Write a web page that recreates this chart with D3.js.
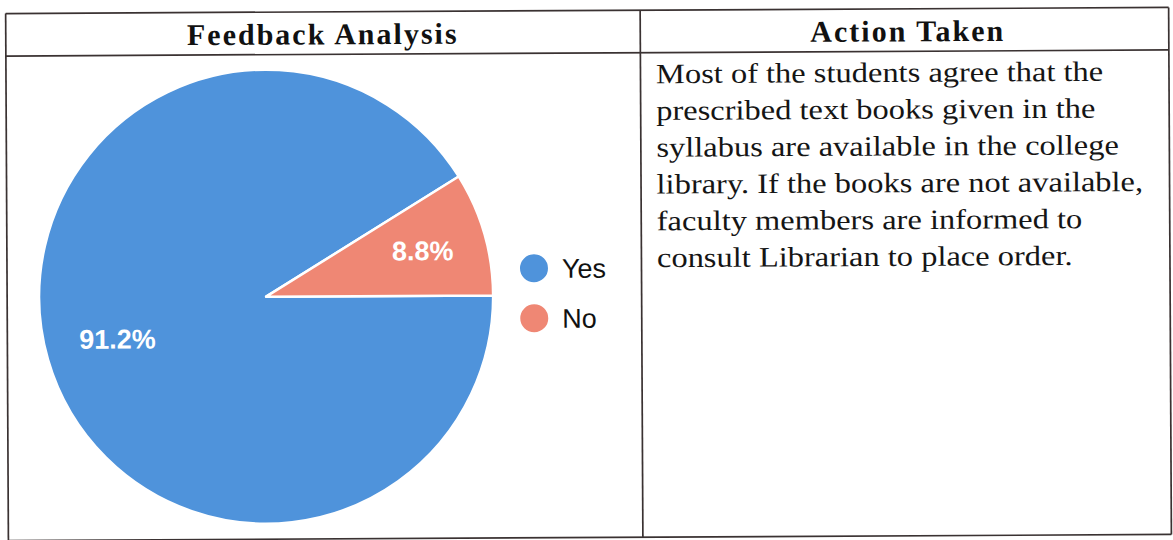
<!DOCTYPE html>
<html>
<head>
<meta charset="UTF-8">
<title>Feedback Analysis</title>
<script src="https://d3js.org/d3.v7.min.js"></script>
<style>
  html, body { margin: 0; padding: 0; background: #fff; }
  svg text.head { font-family: "Liberation Serif", "Times New Roman", serif; font-weight: 700; font-size: 30px; fill: #111; letter-spacing: 2px; }
  svg text.body { font-family: "Liberation Serif", "Times New Roman", serif; font-size: 28px; fill: #151515; }
  svg text.pct { font-family: "Liberation Sans", Arial, sans-serif; font-weight: 700; font-size: 27px; fill: #fff; }
  svg text.leg { font-family: "Liberation Sans", Arial, sans-serif; font-size: 27px; fill: #111; }
</style>
</head>
<body>
<script>
const categories = ['Yes', 'No'];
const shares = [91.2, 8.8];
const colors = ['#4f93db', '#ef8774'];
const headers = ['Feedback Analysis', 'Action Taken'];
const actionLines = [
  'Most of the students agree that the',
  'prescribed text books given in the',
  'syllabus are available in the college',
  'library. If the books are not available,',
  'faculty members are informed to',
  'consult Librarian to place order.'
];

const W = 1173, H = 540;
const svg = d3.select('body').append('svg')
  .attr('width', W)
  .attr('height', H);

// slight scan tilt
const page = svg.append('g').attr('transform', 'rotate(-0.3, 586, 270)');

// table grid
const tLeft = 7, tMid = 641.5, tRight = 1170, tTop = 10.5, tHead = 53, tBottom = 537.5;
const grid = page.append('g').attr('stroke', '#3a3232').attr('stroke-width', 1.7).attr('fill', 'none');
grid.append('line').attr('x1', tLeft).attr('x2', tRight).attr('y1', tTop).attr('y2', tTop);
grid.append('line').attr('x1', tLeft).attr('x2', tRight).attr('y1', tHead).attr('y2', tHead);
grid.append('line').attr('x1', tLeft).attr('x2', tRight).attr('y1', tBottom).attr('y2', tBottom);
grid.append('line').attr('x1', tLeft).attr('x2', tLeft).attr('y1', tTop).attr('y2', tBottom);
grid.append('line').attr('x1', tMid).attr('x2', tMid).attr('y1', tTop).attr('y2', tBottom);
grid.append('line').attr('x1', tRight).attr('x2', tRight).attr('y1', tTop).attr('y2', tBottom);

page.selectAll('text.head')
  .data(headers)
  .enter()
  .append('text')
  .attr('class', 'head')
  .attr('text-anchor', 'middle')
  .attr('x', (d, i) => i == 0 ? 324 : 909)
  .attr('y', 43)
  .text(d => d);

// scanned body text comes out wider than the font metrics
const bodyG = page.append('g').attr('transform', 'translate(657, 0) scale(1.16, 1)');
bodyG.selectAll('text.body')
  .data(actionLines)
  .enter()
  .append('text')
  .attr('class', 'body')
  .attr('x', 0)
  .attr('y', (d, i) => 83.5 + i * 36.8)
  .text(d => d);

// pie
const cx = 266, cy = 295, r = 227;
const pie = d3.pie()
  .sort(null)
  .startAngle(Math.PI / 2)
  .endAngle(Math.PI / 2 + 2 * Math.PI)
  .value(d => d);
const arcs = pie(shares);
const arc = d3.arc().innerRadius(0).outerRadius(r);
const color = d3.scaleOrdinal().domain(categories).range(colors);

const pieG = page.append('g').attr('transform', `translate(${cx}, ${cy})`);
pieG.selectAll('path')
  .data(arcs)
  .enter()
  .append('path')
  .attr('d', arc)
  .attr('fill', (d, i) => color(categories[i]))
  .attr('stroke', '#fff')
  .attr('stroke-width', 2.5)
  .attr('stroke-linejoin', 'round');

const labelArc = d3.arc().innerRadius(r * 0.7).outerRadius(r * 0.7);
pieG.selectAll('text.pct')
  .data(arcs)
  .enter()
  .append('text')
  .attr('class', 'pct')
  .attr('text-anchor', 'middle')
  .attr('dy', '0.36em')
  .attr('transform', d => {
    const c = labelArc.centroid(d);
    return `translate(${c[0] + 4}, ${c[1] - 2})`;
  })
  .text(d => d.value.toFixed(1) + '%');

// legend
const legend = page.append('g').attr('transform', 'translate(534, 268)');
const item = legend.selectAll('g')
  .data(categories)
  .enter()
  .append('g')
  .attr('transform', (d, i) => `translate(0, ${i * 50})`);
item.append('circle').attr('r', 14).attr('fill', d => color(d));
item.append('text')
  .attr('class', 'leg')
  .attr('x', 28)
  .attr('dy', '0.36em')
  .text(d => d);
</script>
</body>
</html>
